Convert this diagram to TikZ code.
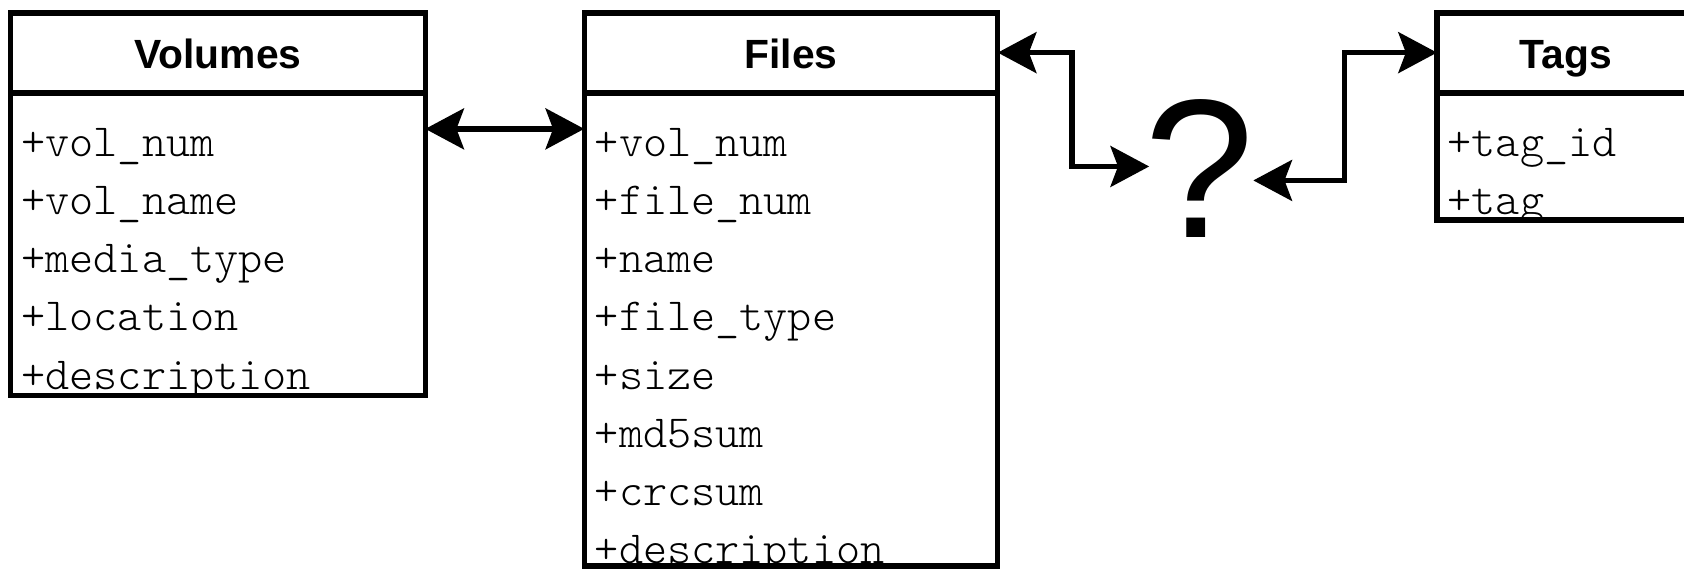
\documentclass[tikz,border=0pt]{standalone}
\usepackage{fontspec}
\newfontfamily\hdrfont{Liberation Sans}
\newfontfamily\attrfont[Extension=.otf]{lmmonolt10-regular}
\usetikzlibrary{arrows.meta}
\begin{document}
\begin{tikzpicture}[x=0.5pt,y=-0.5pt,
  box/.style={draw, line width=2.5pt, rectangle, inner sep=0pt, outer sep=0pt, anchor=north west},
  hdr/.style={box, font=\hdrfont\bfseries\fontsize{19pt}{19pt}\selectfont, text height=14.5pt, text depth=0pt},
  attr/.style={anchor=base west, inner sep=0pt, font=\attrfont\fontsize{21.4pt}{21.4pt}\selectfont},
  qmark/.style={inner sep=0pt, font=\hdrfont\fontsize{92pt}{92pt}\selectfont},
  tip/.style={Stealth[length=18pt,width=19pt,inset=3.5pt]},
  link/.style={line width=2.5pt, {Stealth[length=18pt,width=19pt,inset=3.5pt]}-{Stealth[length=18pt,width=19pt,inset=3.5pt]}},
]
\useasboundingbox (0,0) rectangle (1568,530);
\clip (0,0) rectangle (1568,530);
\fill[white] (0,0) rectangle (1568,530);

% Volumes
\node[hdr, minimum width=193pt, minimum height=37pt] (volH) at (10,12) {Volumes};
\node[box, minimum width=193pt, minimum height=140.5pt] (volB) at ([yshift=-0.5pt]volH.south west) {};
\begin{scope}
  \clip (volB.north west) rectangle (volB.south east);
  \node[attr] (v1) at (19.5,146) {+vol\_num};
  \node[attr] (v2) at (19.5,200) {+vol\_name};
  \node[attr] (v3) at (19.5,254) {+media\_type};
  \node[attr] (v4) at (19.5,308) {+location};
  \node[attr] (v5) at (19.5,363) {+description};
\end{scope}
\draw[line width=2.5pt] (volB.north west) rectangle (volB.south east);

% Files
\node[hdr, minimum width=192.5pt, minimum height=37pt] (filH) at (544,12) {Files};
\node[box, minimum width=192.5pt, minimum height=220pt] (filB) at ([yshift=-0.5pt]filH.south west) {};
\begin{scope}
  \clip (filB.north west) rectangle (filB.south east);
  \node[attr] (f1) at (553.5,146) {+vol\_num};
  \node[attr] (f2) at (553.5,200) {+file\_num};
  \node[attr] (f3) at (553.5,254) {+name};
  \node[attr] (f4) at (553.5,308) {+file\_type};
  \node[attr] (f5) at (553.5,363) {+size};
  \node[attr] (f6) at (553.5,417) {+md5sum};
  \node[attr] (f7) at (553.5,471) {+crcsum};
  \node[attr] (f8) at (553.5,525) {+description};
\end{scope}
\draw[line width=2.5pt] (filB.north west) rectangle (filB.south east);

% Tags
\node[hdr, minimum width=120pt, minimum height=37pt] (tagH) at (1338,12) {Tags};
\node[box, minimum width=120pt, minimum height=59pt] (tagB) at ([yshift=-0.5pt]tagH.south west) {};
\begin{scope}
  \clip (tagB.north west) rectangle (tagB.south east);
  \node[attr] (t1) at (1347.5,146) {+tag\_id};
  \node[attr] (t2) at (1347.5,200) {+tag};
\end{scope}
\draw[line width=2.5pt] (tagB.north west) rectangle (tagB.south east);

% question mark
\node[qmark] (q) at (1117,157) {?};
\coordinate (qa) at (1070,155);
\coordinate (qb) at (1167,168);

% connectors
\draw[link] ([yshift=-16.5pt]volB.north east) -- ([yshift=-16.5pt]filB.north west);
\draw[link] (filH.east) -| (998,155) -- (qa);
\draw[link] (qb) -- (1252,168) |- (tagH.west);
\end{tikzpicture}
\end{document}
